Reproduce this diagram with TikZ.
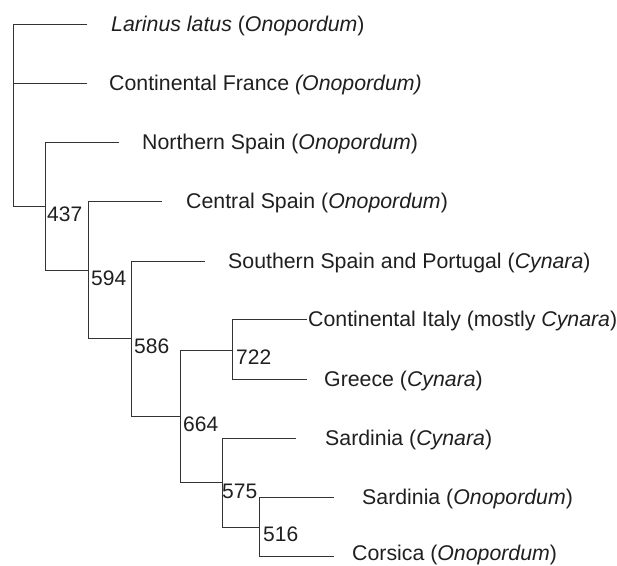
\documentclass[tikz,border=0pt]{standalone}
\usepackage{fontspec}
\setmainfont{Liberation Sans}
\begin{document}
\begin{tikzpicture}[x=1pt,y=-1pt,
  branch/.style={draw=black!80,line width=1pt,line cap=rect},
  leaf/.style={anchor=base west,inner sep=0pt,text=black!88,font=\fontsize{21.3}{25}\selectfont},
  support/.style={anchor=base west,inner sep=0pt,text=black!88,font=\fontsize{21}{25}\selectfont}]
\useasboundingbox (0,0) rectangle (617,565);
% internal node positions (vertical bars)
\coordinate (r)  at (13,24);
\coordinate (rB) at (13,206);
\coordinate (a)  at (45,142);  \coordinate (aB) at (45,270);
\coordinate (b)  at (88,201);  \coordinate (bB) at (88,338);
\coordinate (c)  at (131,261); \coordinate (cB) at (131,416);
\coordinate (d)  at (180,350); \coordinate (dB) at (180,482);
\coordinate (e)  at (232,319); \coordinate (eB) at (232,379);
\coordinate (f)  at (222,438); \coordinate (fB) at (222,527);
\coordinate (g)  at (259,497); \coordinate (gB) at (259,556);
% leaf line ends
\coordinate (l1) at (86,24);
\coordinate (l2) at (86,83);
\coordinate (l3) at (118,142);
\coordinate (l4) at (161,201);
\coordinate (l5) at (204,261);
\coordinate (l6) at (306,319);
\coordinate (l7) at (306,379);
\coordinate (l8) at (295,438);
\coordinate (l9) at (333,497);
\coordinate (l10) at (333,556);
% leaf labels
\node[leaf] (t1) at (111,31.5) {\textit{Larinus latus} (\textit{Onopordum})};
\node[leaf] (t2) at (109,90.5) {Continental France \textit{(Onopordum)}};
\node[leaf] (t3) at (142,149.5) {Northern Spain (\textit{Onopordum})};
\node[leaf] (t4) at (186,208.5) {Central Spain (\textit{Onopordum})};
\node[leaf] (t5) at (228,268.5) {Southern Spain and Portugal (\textit{Cynara})};
\node[leaf] (t6) at (308,326.5) {Continental Italy (mostly \textit{Cynara})};
\node[leaf] (t7) at (324,386.5) {Greece (\textit{Cynara})};
\node[leaf] (t8) at (325,445.5) {Sardinia (\textit{Cynara})};
\node[leaf] (t9) at (362,504.5) {Sardinia (\textit{Onopordum})};
\node[leaf] (t10) at (352,560) {Corsica (\textit{Onopordum})};
% support values
\node[support] (s437) at (47,221) {437};
\node[support] (s594) at (91,285.5) {594};
\node[support] (s586) at (134,353.5) {586};
\node[support] (s664) at (183,431.5) {664};
\node[support] (s722) at (236,364.5) {722};
\node[support] (s575) at (222,498.5) {575};
\node[support] (s516) at (263,541.5) {516};
% branches
\draw[branch] (l1) -- (r) -- (rB) -- (rB -| a);
\draw[branch] (l2) -- (l2 -| r);
\draw[branch] (l3) -- (a) -- (aB) -- (aB -| b);
\draw[branch] (l4) -- (b) -- (bB) -- (bB -| c);
\draw[branch] (l5) -- (c) -- (cB) -- (cB -| d);
\draw[branch] (d -| e) -- (d) -- (dB) -- (dB -| f);
\draw[branch] (l6) -- (e) -- (eB) -- (l7);
\draw[branch] (l8) -- (f) -- (fB) -- (fB -| g);
\draw[branch] (l9) -- (g) -- (gB) -- (l10);
\end{tikzpicture}
\end{document}
